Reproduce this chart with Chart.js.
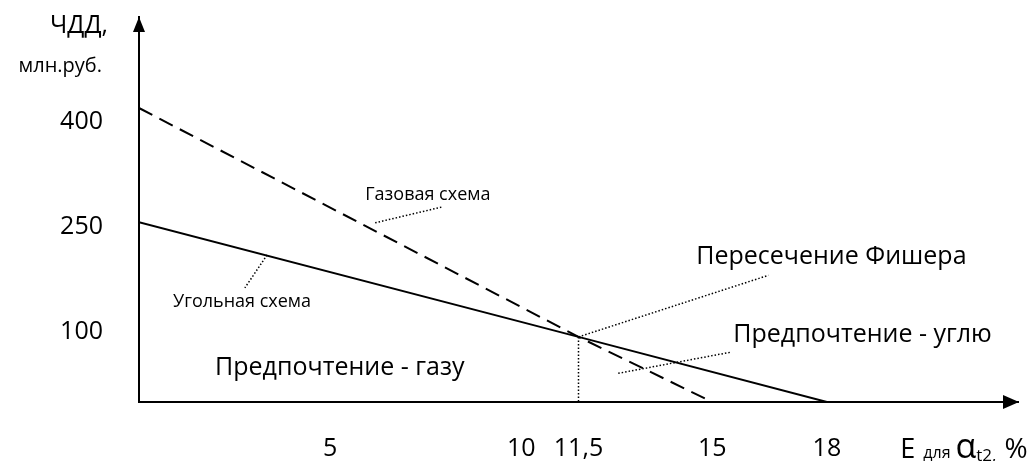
<!DOCTYPE html>
<html>
<head>
<meta charset="utf-8">
<script src="https://cdn.jsdelivr.net/npm/chart.js@4"></script>
<style>
  body { margin: 0; background: #fff; }
  canvas { display: block; }
</style>
</head>
<body>
<canvas id="fisherChart" width="1034" height="461"></canvas>
<script>
const xTicks = [5, 10, 11.5, 15, 18];
const yTicks = [100, 250, 400];
const gasRate = [0, 11.5, 15];
const gasNpv = [420, 93, 0];
const coalRate = [0, 11.5, 18];
const coalNpv = [257, 93, 0];
const fisherPoint = [11.5, 93];

const FONT = "'Open Sans', 'Liberation Sans', sans-serif";

// callouts: text anchor and leader line, in data units
const notes = [
    { text: "Пересечение Фишера", at: [14.58, 197], size: 25, from: fisherPoint, to: [16.47, 181] },
    { text: "Предпочтение - углю", at: [15.55, 86], size: 25, from: [12.54, 41], to: [15.47, 71] },
    { text: "Предпочтение - газу", at: [1.99, 39], size: 25 },
    { text: "Газовая схема", at: [5.92, 289], size: 18, from: [6.18, 256], to: [7.96, 279] },
    { text: "Угольная схема", at: [0.89, 136], size: 18, from: [3.35, 210], to: [2.77, 163] }
];

const toPoints = (xs, ys) => xs.map((x, i) => ({ x: x, y: ys[i] }));

const decorations = {
    id: "decorations",
    afterDatasetsDraw(chart) {
        const ctx = chart.ctx;
        const area = chart.chartArea;
        const xs = chart.scales.x;
        const ys = chart.scales.y;
        const left = area.left, bottom = area.bottom;

        ctx.save();
        ctx.fillStyle = "#000";
        ctx.strokeStyle = "#000";

        // arrow heads
        ctx.beginPath();
        ctx.moveTo(left, area.top);
        ctx.lineTo(left - 6, area.top + 15);
        ctx.lineTo(left + 6, area.top + 15);
        ctx.closePath();
        ctx.fill();
        ctx.beginPath();
        ctx.moveTo(area.right + 1, bottom);
        ctx.lineTo(area.right - 15, bottom - 7);
        ctx.lineTo(area.right - 15, bottom + 7);
        ctx.closePath();
        ctx.fill();

        // dotted leaders
        ctx.lineWidth = 1.5;
        ctx.setLineDash([1.5, 2]);
        const leader = (a, b) => {
            ctx.beginPath();
            ctx.moveTo(xs.getPixelForValue(a[0]), ys.getPixelForValue(a[1]));
            ctx.lineTo(xs.getPixelForValue(b[0]), ys.getPixelForValue(b[1]));
            ctx.stroke();
        };
        leader(fisherPoint, [fisherPoint[0], 0]);
        notes.forEach(n => { if (n.from) leader(n.from, n.to); });
        ctx.setLineDash([]);

        // callout texts
        ctx.textAlign = "left";
        ctx.textBaseline = "alphabetic";
        notes.forEach(n => {
            ctx.font = n.size + "px " + FONT;
            ctx.fillText(n.text, xs.getPixelForValue(n.at[0]), ys.getPixelForValue(n.at[1]));
        });

        // y axis title
        ctx.textAlign = "right";
        ctx.font = "25px " + FONT;
        ctx.fillText("ЧДД,", left - 31, area.top + 16);
        ctx.font = "20px " + FONT;
        ctx.fillText("млн.руб.", left - 37, area.top + 55);

        // x axis title: Е для αt2, %
        ctx.textAlign = "left";
        let x = xs.getPixelForValue(19.92);
        const base = bottom + 56;
        const part = (txt, size, dy, gap) => {
            ctx.font = size + "px " + FONT;
            ctx.fillText(txt, x, base + dy);
            x += ctx.measureText(txt).width + gap;
        };
        part("Е", 27, 0, 8);
        part("для", 16, 0, 5);
        part("α", 34, 0, 0);
        part("t2,", 17, 3, 8);
        part("%", 28, 0, 0);
        ctx.restore();
    }
};

const ctx = document.getElementById("fisherChart").getContext("2d");
new Chart(ctx, {
    type: "line",
    data: {
        datasets: [
            {
                label: "Газовая схема",
                data: toPoints(gasRate, gasNpv),
                borderColor: "#000",
                borderWidth: 2,
                borderDash: [15, 8],
                pointRadius: 0,
                tension: 0
            },
            {
                label: "Угольная схема",
                data: toPoints(coalRate, coalNpv),
                borderColor: "#000",
                borderWidth: 2,
                pointRadius: 0,
                tension: 0
            }
        ]
    },
    options: {
        responsive: false,
        animation: false,
        layout: { padding: { top: 17, right: 16, left: 0, bottom: 0 } },
        plugins: {
            legend: { display: false },
            tooltip: { enabled: false }
        },
        scales: {
            x: {
                type: "linear",
                min: 0,
                max: 23,
                grid: { display: false, drawTicks: false },
                border: { display: true, color: "#000", width: 2 },
                afterFit: scale => {
                    scale.height = 59;
                    scale.paddingLeft = 0;
                    scale.paddingRight = 0;
                },
                afterBuildTicks: scale => { scale.ticks = xTicks.map(v => ({ value: v })); },
                ticks: {
                    color: "#000",
                    padding: 32,
                    maxRotation: 0,
                    autoSkip: false,
                    font: { family: FONT, size: 25 },
                    callback: value => String(value).replace(".", ",")
                }
            },
            y: {
                type: "linear",
                min: 0,
                max: 550,
                grid: { display: false, drawTicks: false },
                border: { display: true, color: "#000", width: 2 },
                afterFit: scale => {
                    scale.width = 139;
                    scale.paddingTop = 0;
                    scale.paddingBottom = 0;
                },
                afterBuildTicks: scale => { scale.ticks = yTicks.map(v => ({ value: v })); },
                ticks: {
                    color: "#000",
                    padding: 36,
                    autoSkip: false,
                    font: { family: FONT, size: 25 }
                }
            }
        }
    },
    plugins: [decorations]
});
</script>
</body>
</html>
